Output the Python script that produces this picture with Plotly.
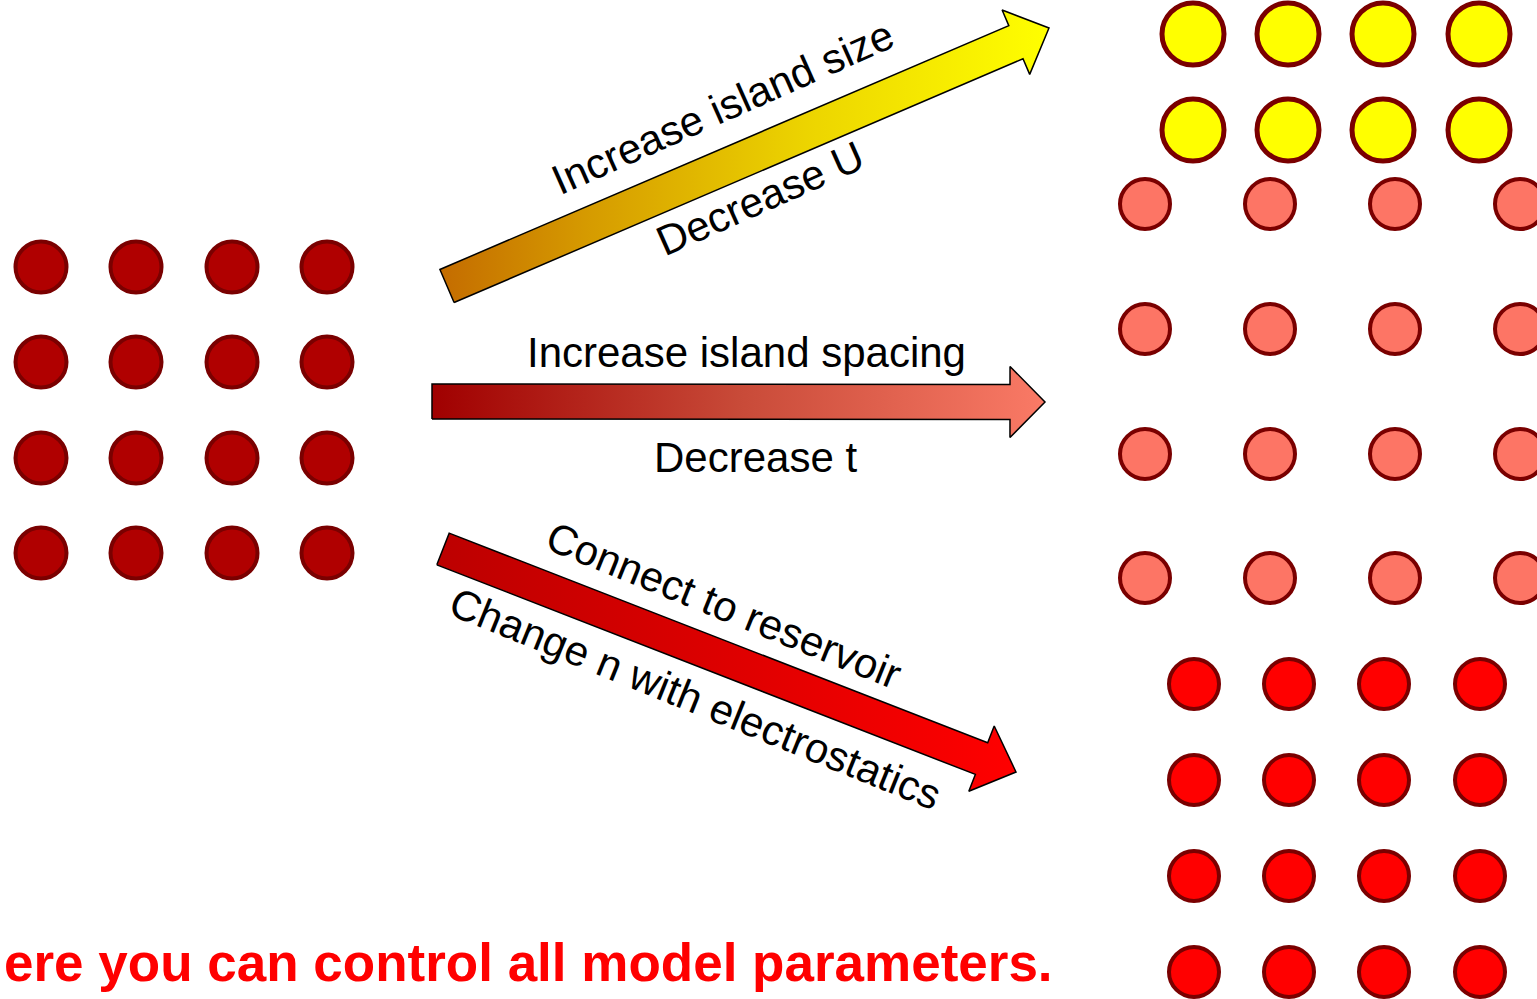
import math
import plotly.graph_objects as go

# ---- data (pixel-space diagram coordinates) ----
left_cols = [41, 136, 232, 327]
left_rows = [267, 362, 458, 553]

yellow_cols = [1193, 1288, 1383, 1479]
yellow_rows = [34, 130]

salmon_cols = [1145, 1270, 1395, 1520]
salmon_rows = [204, 329, 454, 578]

red_cols = [1194, 1289, 1384, 1480]
red_rows = [684, 780, 876, 972]

# arrows: tail center, tip, shaft width, head width, head length, gradient colours
arrow_tails = [(447, 286), (432, 401.5), (443, 549)]
arrow_tips = [(1049, 28), (1045, 402), (1016, 772)]
arrow_shaft_w = [36, 35, 34]
arrow_head_w = [70, 71, 70]
arrow_head_l = [36, 35, 37]
arrow_colors = [
    [[0, "#c46c00"], [0.25, "#d69c00"], [0.6, "#ecd400"], [1, "#ffff00"]],
    [[0, "#a00000"], [0.5, "#c84a38"], [1, "#fa7a66"]],
    [[0, "#bc0000"], [1, "#ff0000"]],
]

labels = ["Increase island size", "Decrease U", "Increase island spacing", "Decrease t",
          "Connect to reservoir", "Change n with electrostatics"]
label_pos = [(722, 107), (760, 198), (746, 352), (755, 457), (724, 605), (695, 698)]
label_angle = [-24, -24, 0, 0, 22, 22]

bottom_text = "ere you can control all model parameters."

fig = go.Figure()


def grid(cols, rows, fill, size, lw):
    xs = [c for r in rows for c in cols]
    ys = [r for r in rows for c in cols]
    fig.add_trace(go.Scatter(x=xs, y=ys, mode="markers", hoverinfo="skip",
                             marker=dict(size=size, color=fill,
                                         line=dict(color="#7a0000", width=lw))))


def arrow_poly(tail, tip, w, hw, hl):
    dx, dy = tip[0] - tail[0], tip[1] - tail[1]
    L = math.hypot(dx, dy)
    ux, uy = dx / L, dy / L
    nx, ny = -uy, ux
    bx, by = tip[0] - ux * hl, tip[1] - uy * hl
    pts = [
        (tail[0] + nx * w / 2, tail[1] + ny * w / 2),
        (bx + nx * w / 2, by + ny * w / 2),
        (bx + nx * hw / 2, by + ny * hw / 2),
        tip,
        (bx - nx * hw / 2, by - ny * hw / 2),
        (bx - nx * w / 2, by - ny * w / 2),
        (tail[0] - nx * w / 2, tail[1] - ny * w / 2),
    ]
    pts.append(pts[0])
    return [p[0] for p in pts], [p[1] for p in pts]


for i in range(3):
    xs, ys = arrow_poly(arrow_tails[i], arrow_tips[i], arrow_shaft_w[i],
                        arrow_head_w[i], arrow_head_l[i])
    fig.add_trace(go.Scatter(x=xs, y=ys, mode="lines", fill="toself",
                             hoverinfo="skip",
                             fillgradient=dict(type="horizontal", colorscale=arrow_colors[i]),
                             line=dict(color="black", width=1.5)))

grid(left_cols, left_rows, "#b00000", 51, 4)
grid(yellow_cols, yellow_rows, "#ffff00", 62, 5)
grid(salmon_cols, salmon_rows, "#fd7565", 50, 4)
grid(red_cols, red_rows, "#ff0000", 50, 4)

for t, (x, y), a in zip(labels, label_pos, label_angle):
    fig.add_annotation(x=x, y=y, text=t, textangle=a, showarrow=False,
                       font=dict(family="Liberation Sans, Arial", size=42, color="black"),
                       xanchor="center", yanchor="middle")

fig.add_annotation(x=2, y=962, text="<b>" + bottom_text + "</b>", showarrow=False,
                   xanchor="left", yanchor="middle",
                   font=dict(family="Liberation Sans, Arial", size=53, color="#ff0000"))

fig.update_layout(
    width=1537, height=999, margin=dict(l=0, r=0, t=0, b=0),
    paper_bgcolor="white", plot_bgcolor="white", showlegend=False,
    xaxis=dict(range=[0, 1537], visible=False, fixedrange=True),
    yaxis=dict(range=[999, 0], visible=False, fixedrange=True),
)

fig.write_html("out.html", config={"displayModeBar": False},
               post_script="document.body.style.margin='0';")
